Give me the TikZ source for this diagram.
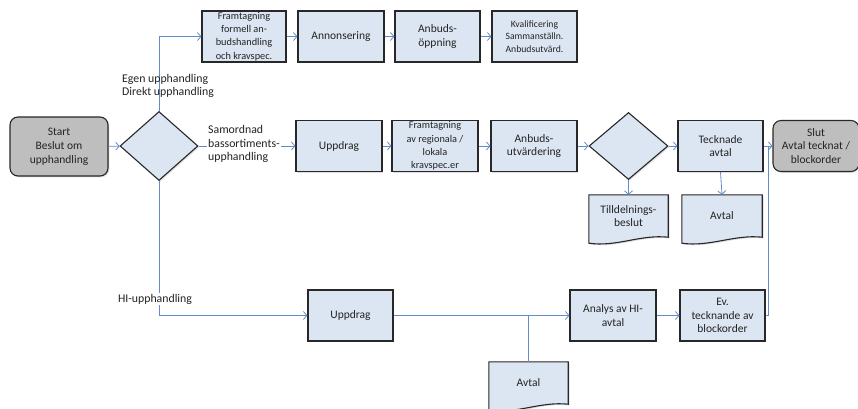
\documentclass[tikz,border=0pt]{standalone}
\usepackage{fontspec}
\setmainfont{Carlito}
\usepackage{tikz}
\usetikzlibrary{shapes.geometric,arrows.meta,shadows,calc,backgrounds}
\definecolor{boxfill}{RGB}{220,230,242}
\definecolor{termfill}{RGB}{190,190,190}
\definecolor{linkblue}{RGB}{100,140,205}
\definecolor{edgegray}{RGB}{40,40,40}
\definecolor{textgray}{RGB}{35,35,35}
\tikzset{>={Straight Barb[length=3.5pt,width=8pt]}}
\tikzset{
  boxshadow/.style={drop shadow={shadow xshift=1.3pt, shadow yshift=-1.3pt, opacity=0.25}},
  procbox/.style={draw=edgegray, line width=1.1pt, fill=boxfill, minimum height=51pt,
    align=center, inner sep=1pt, text=textgray, boxshadow,
    font=\fontsize{11.5}{13.8}\selectfont},
  termbox/.style={procbox, fill=termfill, rounded corners=8pt},
  decbox/.style={draw=edgegray, line width=1.1pt, fill=boxfill, diamond, inner sep=0pt, boxshadow},
  docnode/.style={minimum height=42pt, align=center, inner sep=1pt, text=textgray,
    font=\fontsize{11.5}{13.8}\selectfont},
  docline/.style={draw=edgegray, line width=1.1pt, fill=boxfill, boxshadow},
  link/.style={draw=linkblue, line width=0.8pt},
  branch/.style={fill=white, inner sep=1pt, align=left, text=textgray,
    font=\fontsize{11.8}{13.6}\selectfont},
  smalltext/.style={font=\fontsize{10.3}{13.3}\selectfont},
  tinytext/.style={font=\fontsize{9.7}{12.5}\selectfont}
}

\begin{document}
\begin{tikzpicture}[x=1pt, y=-1pt]
    \def\rowa{36.5}
    \def\rowb{146}
    \def\rowc{315.5}

    \useasboundingbox (0,0) rectangle (858,408);

    % Start and first decision
    \node[termbox, minimum width=98pt, minimum height=59pt] (start) at (59,146.5) {Start\\Beslut om\\upphandling};
    \node[decbox, minimum width=78pt, minimum height=69pt] (decA) at (159,\rowb) {};

    % Egen upphandling
    \node[procbox, smalltext, minimum width=84pt] (formell) at (244,\rowa) {Framtagning\\formell an-\\budshandling\\och kravspec.};
    \node[procbox, minimum width=86pt] (annons) at (341,\rowa) {Annonsering};
    \node[procbox, minimum width=85pt] (oppning) at (437.5,\rowa) {Anbuds-\\öppning};
    \node[procbox, tinytext, minimum width=85pt] (kval) at (534.5,\rowa) {Kvalificering\\Sammanställn.\\Anbudsutvärd.};

    % Samordnad upphandling
    \node[procbox, minimum width=86pt] (uppdragA) at (339,\rowb) {Uppdrag};
    \node[procbox, smalltext, minimum width=86pt] (regional) at (435,\rowb) {Framtagning\\av regionala /\\lokala\\kravspec.er};
    \node[procbox, minimum width=86pt] (utvard) at (534,\rowb) {Anbuds-\\utvärdering};
    \node[decbox, minimum width=79pt, minimum height=67pt] (decB) at (628.5,\rowb) {};
    \node[procbox, minimum width=85pt] (tecknade) at (720.5,\rowb) {Tecknade\\avtal};
    \node[termbox, minimum width=86pt] (slut) at (816,\rowb) {Slut\\Avtal tecknat /\\blockorder};

    % Documents
    \node[docnode, minimum width=79pt] (tilldel) at (628.5,216) {Tilldelnings-\\beslut};
    \node[docnode, minimum width=80pt] (avtalA) at (722,216) {Avtal};
    \node[docnode, minimum width=79pt] (avtalB) at (528.5,383) {Avtal};
    \begin{pgfonlayer}{background}
    \foreach \d in {tilldel,avtalA,avtalB}
        \path[docline] (\d.south east) -- (\d.north east) -- (\d.north west) -- ($(\d.south west)+(0,6)$)
            .. controls ($(\d.south west)+(28,10)$) and ($(\d.south east)+(-28,-3)$) .. (\d.south east) -- cycle;
    \end{pgfonlayer}

    % HI-upphandling
    \node[procbox, minimum width=85pt] (uppdragB) at (350.5,\rowc) {Uppdrag};
    \node[procbox, minimum width=86pt] (analys) at (613,\rowc) {Analys av HI-\\avtal};
    \node[procbox, minimum width=85pt] (blockorder) at (722.5,\rowc) {Ev.\\tecknande av\\blockorder};

    % Connectors
    \draw[link, ->] (start) -- (decA);
    \draw[link, ->] (decA.north) |- (formell.west);
    \draw[link, ->] (formell) -- (annons);
    \draw[link, ->] (annons) -- (oppning);
    \draw[link, ->] (oppning) -- (kval);

    \draw[link, ->] (decA.east) -- (uppdragA.west);
    \draw[link, ->] (uppdragA) -- (regional);
    \draw[link, ->] (regional) -- (utvard);
    \draw[link, ->] (utvard.east) -- (decB.west);
    \draw[link, ->] (decB.east) -- (tecknade.west);
    \draw[link, ->] (tecknade) -- (slut);
    \draw[link, ->] (decB.south) -- (tilldel.north);
    \draw[link, ->] (tecknade.south) -- (avtalA.north);

    \coordinate (hiturn) at (decA.south |- uppdragB.west);
    \draw[link, ->] (decA.south) -- (hiturn) -- (uppdragB.west);
    \draw[link, ->] (uppdragB) -- (analys);
    \draw[link] (avtalB.north) -- (avtalB.north |- uppdragB.east);
    \draw[link, ->] (analys) -- (blockorder);
    \coordinate (join) at ($(tecknade.east)!0.5!(slut.west)$);
    \draw[link] (blockorder.east) -| (join);

    % Labels
    \node[branch, fill=none, anchor=west] (egen) at (121,86) {Egen upphandling\\Direkt upphandling};
    \node[branch, anchor=west] (samordnad) at (207,144) {Samordnad\\bassortiments-\\upphandling};
    \node[branch] (hi) at (155,299) {HI-upphandling};
\end{tikzpicture}
\end{document}
